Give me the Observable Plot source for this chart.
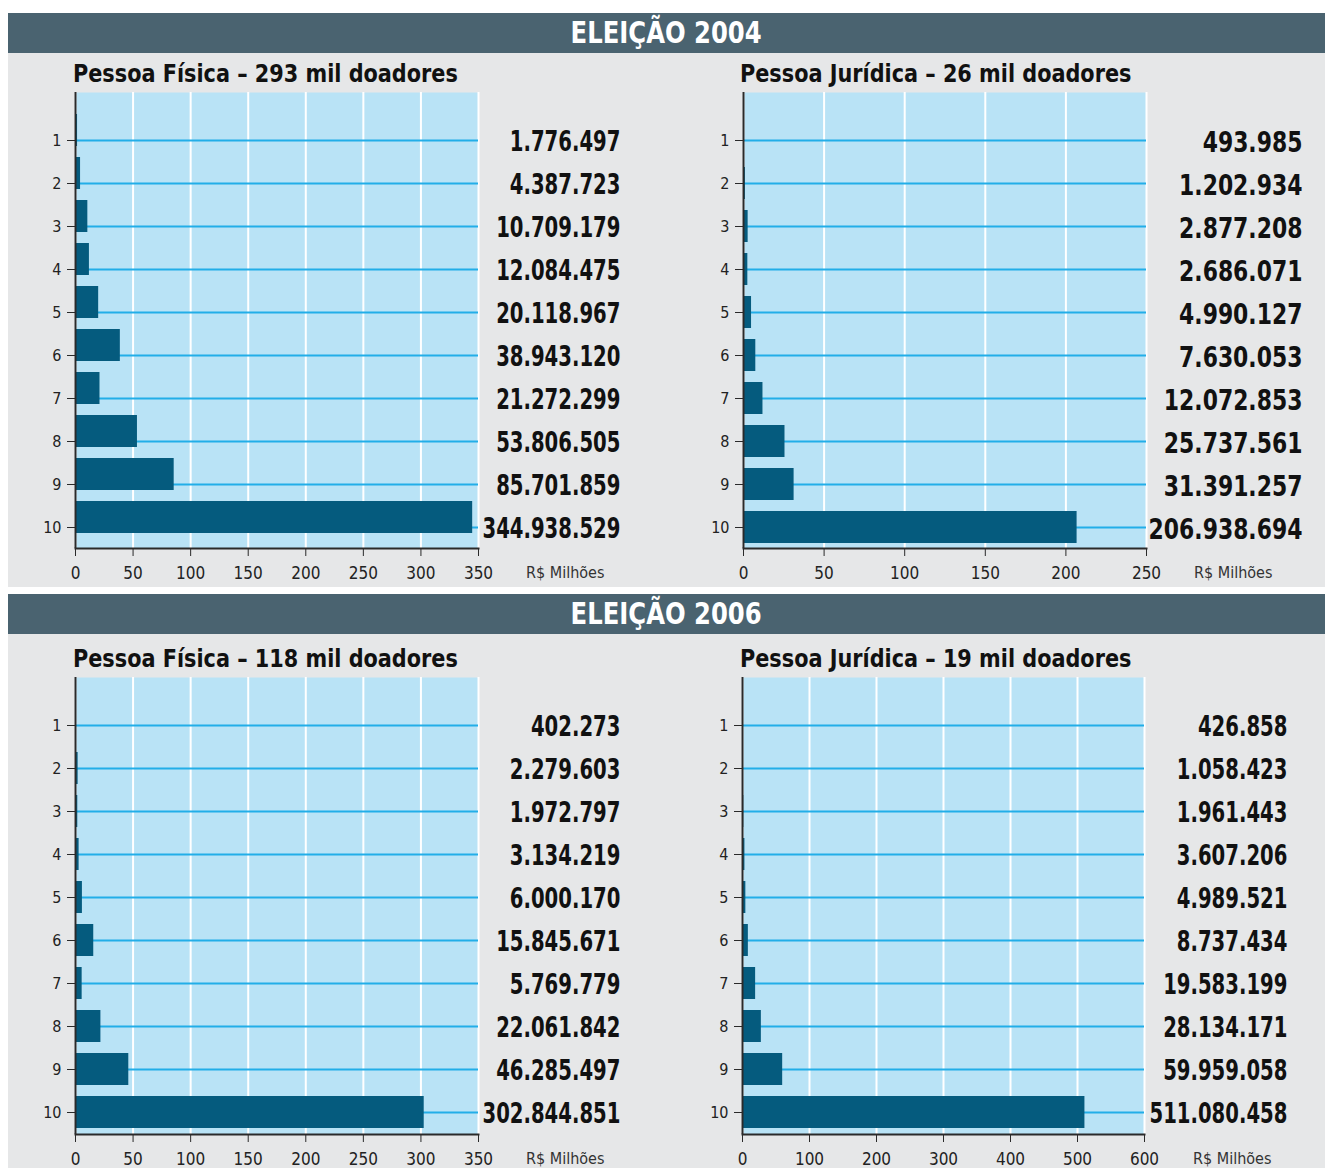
<!DOCTYPE html>
<html>
<head>
<meta charset="utf-8">
<script src="https://cdn.jsdelivr.net/npm/d3@7"></script>
<script src="https://cdn.jsdelivr.net/npm/@observablehq/plot@0.6"></script>
<style>
  html, body { margin: 0; padding: 0; background: #ffffff; }
  #root { position: relative; width: 1326px; height: 1168px; overflow: hidden; }
  .abs { position: absolute; }
  .bg { background: #e6e7e8; }
  .hdr { background: #4a6370; color: #fff; font-weight: bold; font-size: 30px; text-align: center; line-height: 40px; }
  .hdr span { display: inline-block; transform: scaleX(0.9); transform-origin: 50% 50%; }
  .ttl { font-weight: bold; font-size: 25px; color: #111; white-space: nowrap; line-height: 30px; transform: scaleX(0.925); transform-origin: 0 50%; }
  .unit { font-size: 16px; color: #333; white-space: nowrap; line-height: 20px; }
</style>
</head>
<body>
<div id="root"></div>
<script>
const FONT = '"DejaVu Sans Condensed","Liberation Sans Narrow","Roboto Condensed","Open Sans",sans-serif';

// ---- data ----
const categories = ["1","2","3","4","5","6","7","8","9","10"];
const pf2004 = [1776497, 4387723, 10709179, 12084475, 20118967, 38943120, 21272299, 53806505, 85701859, 344938529];
const pj2004 = [493985, 1202934, 2877208, 2686071, 4990127, 7630053, 12072853, 25737561, 31391257, 206938694];
const pf2006 = [402273, 2279603, 1972797, 3134219, 6000170, 15845671, 5769779, 22061842, 46285497, 302844851];
const pj2006 = [426858, 1058423, 1961443, 3607206, 4989521, 8737434, 19583199, 28134171, 59959058, 511080458];
const ticks350 = [0, 50, 100, 150, 200, 250, 300, 350];
const ticks250 = [0, 50, 100, 150, 200, 250];
const ticks600 = [0, 100, 200, 300, 400, 500, 600];
const headers = ["ELEIÇÃO 2004", "ELEIÇÃO 2006"];
const titles = ["Pessoa Física – 293 mil doadores", "Pessoa Jurídica – 26 mil doadores",
                "Pessoa Física – 118 mil doadores", "Pessoa Jurídica – 19 mil doadores"];
const unitLabel = "R$ Milhões";

const locale = d3.formatLocale({decimal: ",", thousands: ".", grouping: [3], currency: ["R$", ""]});
const fmt = locale.format(",d");

const root = document.getElementById("root");
function addDiv(cls, css, text, wrap) {
  const d = document.createElement("div");
  d.className = "abs " + cls;
  Object.assign(d.style, css);
  if (text != null) {
    if (wrap) { const s = document.createElement("span"); s.textContent = text; d.appendChild(s); }
    else d.textContent = text;
  }
  root.appendChild(d);
  return d;
}

// backgrounds and headers
addDiv("bg", {left: "8px", top: "53px", width: "1317px", height: "534px"});
addDiv("bg", {left: "8px", top: "634px", width: "1317px", height: "534px"});
addDiv("hdr", {left: "8px", top: "13px", width: "1317px", height: "40px", fontFamily: FONT}, headers[0], true);
addDiv("hdr", {left: "8px", top: "594px", width: "1317px", height: "40px", fontFamily: FONT}, headers[1], true);

// panel layout (page coordinates)
const panels = [
  {values: pf2004, ticks: ticks350, xmax: 350, svgLeft: 0,   x0: 75,  x1: 478,  top: 92,  bottom: 548,  c1: 139, c10: 527,  valueRight: 620,  unitX: 526,  titleX: 73,  titleY: 59,  dy: -10, title: titles[0], vSize: 28, squeeze: 0.78},
  {values: pj2004, ticks: ticks250, xmax: 250, svgLeft: 663, x0: 743, x1: 1146, top: 92,  bottom: 548,  c1: 139, c10: 527,  valueRight: 1302, unitX: 1194, titleX: 740, titleY: 59,  dy: 0,   title: titles[1], vSize: 29, squeeze: 0.84},
  {values: pf2006, ticks: ticks350, xmax: 350, svgLeft: 0,   x0: 75,  x1: 478,  top: 677, bottom: 1134, c1: 724, c10: 1113, valueRight: 620,  unitX: 526,  titleX: 73,  titleY: 644, dy: 0,   title: titles[2], vSize: 28, squeeze: 0.78},
  {values: pj2006, ticks: ticks600, xmax: 600, svgLeft: 663, x0: 742, x1: 1144, top: 677, bottom: 1134, c1: 724, c10: 1113, valueRight: 1287, unitX: 1193, titleX: 740, titleY: 644, dy: 0,   title: titles[3], vSize: 28, squeeze: 0.78}
];

for (const p of panels) {
  const data = categories.map((c, i) => ({cat: c, raw: p.values[i], v: p.values[i] / 1e6}));
  const svgTop = p.top - 10;
  const marginTop = 10, marginBottom = 40;
  const height = p.bottom - svgTop + marginBottom;
  const width = 663;
  const marginLeft = p.x0 - p.svgLeft;
  const marginRight = p.svgLeft + width - p.x1;
  const step = (p.c10 - p.c1) / 9;
  const pI = 1 - 32 / step;
  const ya = p.c1 - svgTop - step / 2;
  const yb = p.c10 - svgTop + step / 2;

  const chart = Plot.plot({
    width, height, marginTop, marginBottom, marginLeft, marginRight,
    style: {background: "transparent", fontFamily: FONT, overflow: "visible", color: "#222"},
    x: {domain: [0, p.xmax]},
    y: {type: "band", domain: categories, range: [ya, yb], paddingInner: pI, paddingOuter: pI / 2, align: 0.5},
    marks: [
      Plot.frame({fill: "#b9e3f6", stroke: "none"}),
      Plot.gridX(p.ticks, {stroke: "#ffffff", strokeOpacity: 1, strokeWidth: 2}),
      Plot.ruleY(categories, {stroke: "#22aee8", strokeWidth: 2}),
      Plot.barX(data, {x: "v", y: "cat", fill: "#055b7e", dy: p.dy}),
      Plot.ruleX([0], {stroke: "#2a2a2a", strokeWidth: 2}),
      Plot.frame({anchor: "bottom", stroke: "#2a2a2a", strokeWidth: 2}),
      Plot.axisX(p.ticks, {tickSize: 8, tickPadding: 10, fontSize: 17, label: null, stroke: "#2a2a2a", fill: "#222"}),
      Plot.axisY({tickSize: 8, tickPadding: 6, fontSize: 16, label: null, stroke: "#2a2a2a", fill: "#222"}),
      Plot.text(data, {y: "cat", text: d => fmt(d.raw), frameAnchor: "right", dx: p.valueRight - p.x1, dy: 2,
        textAnchor: "end", fontSize: p.vSize, fontWeight: "bold", fill: "#111", className: "vals"})
    ]
  });
  // condense the value-label group horizontally around the common right anchor
  const g = chart.querySelector("g.vals");
  if (g) {
    const ax = p.valueRight - p.svgLeft;
    const t = g.getAttribute("transform") || "";
    g.setAttribute("transform", `translate(${ax},0) scale(${p.squeeze},1) translate(${-ax},0) ${t}`);
  }
  const holder = addDiv("", {left: p.svgLeft + "px", top: svgTop + "px", width: width + "px", height: height + "px"});
  holder.appendChild(chart);

  addDiv("ttl", {left: p.titleX + "px", top: p.titleY + "px", fontFamily: FONT}, p.title);
  addDiv("unit", {left: p.unitX + "px", top: (p.bottom + 15) + "px", fontFamily: FONT}, unitLabel);
}
</script>
</body>
</html>
